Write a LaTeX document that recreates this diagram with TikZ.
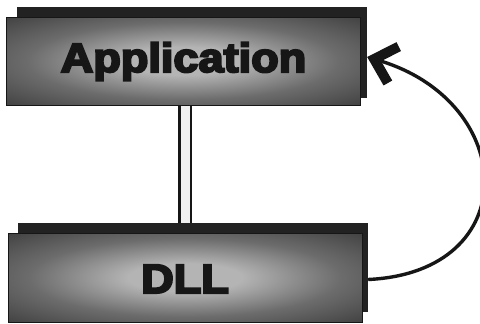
\documentclass[tikz,border=0pt]{standalone}
\usepackage{fontspec}
\usetikzlibrary{arrows.meta,calc}
\newfontfamily\heavy{Liberation Sans}[BoldFeatures={FakeBold=5}]
\definecolor{glowin}{HTML}{B4B4B4}
\definecolor{glowmid}{HTML}{6C6C6C}
\definecolor{glowout}{HTML}{3A3A3A}
\definecolor{backdark}{HTML}{222222}
\definecolor{inkdark}{HTML}{161616}
\pgfdeclareradialshading{boxglow}{\pgfpoint{0bp}{0bp}}{color(0bp)=(glowin); color(8bp)=(glowin); color(22bp)=(glowmid); color(38bp)=(glowout); color(80bp)=(glowout)}
\tikzset{
  backbox/.style={rectangle, fill=backdark, draw=none, inner sep=0pt},
  frontbox/.style={rectangle, shading=boxglow, draw=inkdark, line width=1pt, inner sep=0pt},
  boxtext/.style={font=\heavy\bfseries\fontsize{41}{41}\selectfont, text=inkdark, xscale=1.1, transform shape, anchor=base, inner sep=0pt},
  bar/.style={draw=inkdark, line width=2.6pt, double=white!88!gray, double distance=9pt},
  callback/.style={draw=inkdark, line width=3.4pt, -{Straight Barb[length=20pt, width=38pt, line width=10pt]}}
}
\begin{document}
\begin{tikzpicture}[x=1pt,y=-1pt]
\fill[white] (0,0) rectangle (480,324);
\useasboundingbox (0,0) rectangle (480,324);
% Application
\node[backbox, minimum width=350pt, minimum height=91pt] (appback) at (192,52.5) {};
\node[frontbox, minimum width=354pt, minimum height=88pt] (app) at (183,61) {};
\node[boxtext] (apptext) at (183.5,72) {Application};
% DLL
\node[backbox, minimum width=350pt, minimum height=89pt] (dllback) at (193,267.5) {};
\node[frontbox, minimum width=354pt, minimum height=89pt] (dll) at (185,277.5) {};
\node[boxtext] (dlltext) at (185,293) {DLL};
% vertical connector
\coordinate (bartop) at ($(app.south)+(2,0)$);
\coordinate (barbot) at (bartop |- dllback.north);
\draw[bar] (bartop) -- (barbot);
% curved arrow
\coordinate (cstart) at ($(dllback.east)+(0,12)$);
\coordinate (cend) at ($(appback.east)+(0,4.5)$);
\draw[callback] (cstart) .. controls (525,272) and (518,102) .. (cend);
\end{tikzpicture}
\end{document}
